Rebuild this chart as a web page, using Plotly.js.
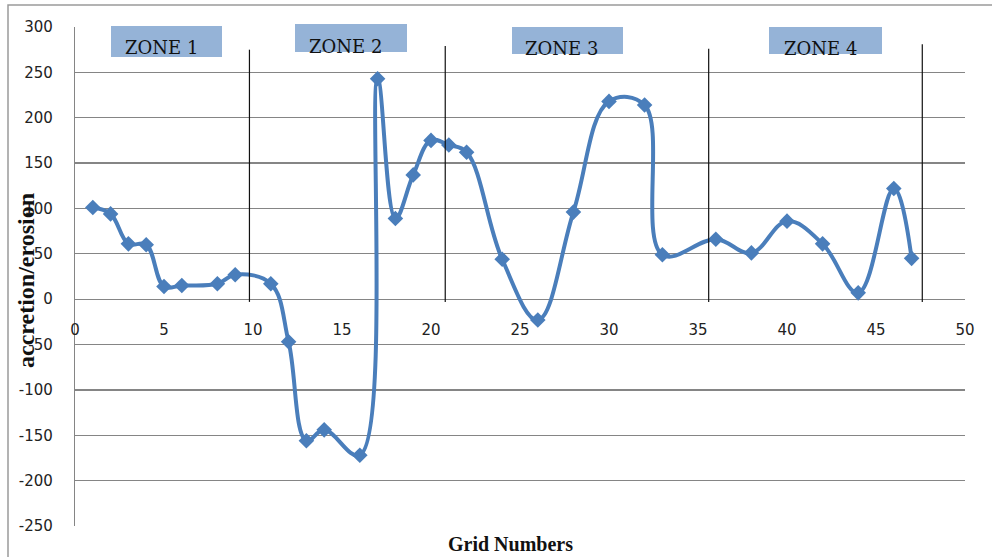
<!DOCTYPE html>
<html>
<head>
<meta charset="utf-8">
<script src="https://cdn.plot.ly/plotly-3.0.1.min.js"></script>
<style>
html,body{margin:0;padding:0;background:#fff;}
#chart{width:992px;height:557px;}
</style>
</head>
<body>
<div id="chart"></div>
<script>
// Data
var gridNumbers = [1,2,3,4,5,6,8,9,11,12,13,14,16,17,18,19,20,21,22,24,26,28,30,32,33,36,38,40,42,44,46,47];
var accretionErosion = [101,94,61,60,14,15,17,27,17,-47,-156,-144,-172,243,89,137,175,170,162,44,-23,96,218,214,49,66,51,86,61,7,122,45];
var xTicks = [0,5,10,15,20,25,30,35,40,45,50];
var yTicks = [-250,-200,-150,-100,-50,0,50,100,150,200,250,300];
var zoneNames = ['ZONE 1','ZONE 2','ZONE 3','ZONE 4'];
var zoneDividers = [9.8, 20.8, 35.6, 47.6];
var zoneDividerTops = [275, 279, 276, 281];

// layout helpers (pixel -> paper)
var L = 75, R = 27, T = 27, B = 31, W = 992, H = 557;
var pw = W - L - R, ph = H - T - B;
function px(x){ return (x - L) / pw; }
function py(y){ return (H - B - y) / ph; }

var zoneBoxes = [ // [x0,x1,y0,y1,textX,textY] in pixels
  [111,222,26,57,161,47],
  [295,407,24,52,345,46],
  [512,623,27,54,561,48],
  [769,882,27,54,820,48]
];

var shapes = [];
var annotations = [];

// outer frame
shapes.push({type:'rect', xref:'paper', yref:'paper', x0:px(8), x1:px(1010), y0:py(575), y1:py(5),
  line:{color:'#9a9a9a', width:1.5}, fillcolor:'rgba(0,0,0,0)', layer:'below'});

zoneDividers.forEach(function(x,i){
  shapes.push({type:'line', xref:'x', yref:'y', x0:x, x1:x, y0:-3, y1:zoneDividerTops[i],
    line:{color:'#111', width:1.2}});
});

zoneBoxes.forEach(function(b,i){
  shapes.push({type:'rect', xref:'paper', yref:'paper', x0:px(b[0]), x1:px(b[1]), y0:py(b[3]), y1:py(b[2]),
    line:{width:0}, fillcolor:'#95B3D7', layer:'above'});
  annotations.push({xref:'paper', yref:'paper', x:px(b[4]), y:py(b[5]), text:zoneNames[i], showarrow:false,
    xanchor:'center', yanchor:'middle', font:{family:'DejaVu Serif, serif', size:18, color:'#111'}});
});

annotations.push({xref:'paper', yref:'paper', x:px(510), y:py(544), text:'<b>Grid Numbers</b>', showarrow:false,
  xanchor:'center', yanchor:'middle', font:{family:'Liberation Serif, serif', size:20, color:'#111'}});
annotations.push({xref:'paper', yref:'paper', x:px(26), y:py(281), text:'<b>accretion/erosion</b>', showarrow:false,
  textangle:-90, xanchor:'center', yanchor:'middle', font:{family:'Liberation Serif, serif', size:24, color:'#111'}});

var trace = {
  x: gridNumbers, y: accretionErosion, type:'scatter', mode:'lines+markers',
  line:{shape:'spline', smoothing:1.1, color:'#4A7EBB', width:4},
  marker:{symbol:'diamond', size:12, color:'#4A7EBB'},
  cliponaxis:false, hoverinfo:'x+y'
};

var tf = {family:'DejaVu Sans, sans-serif', size:15, color:'#222'};
var layout = {
  width:W, height:H,
  margin:{l:L, r:R, t:T, b:B},
  paper_bgcolor:'#fff', plot_bgcolor:'#fff',
  showlegend:false,
  font:tf,
  xaxis:{range:[0,50], tickvals:xTicks, ticktext:xTicks.map(String), showgrid:false, zeroline:false,
    showline:false, anchor:'free', position:250/550, ticks:'', ticklabelstandoff:20, tickfont:tf},
  yaxis:{range:[-250,300], tickvals:yTicks, ticktext:yTicks.map(String), showgrid:true, gridcolor:'#858585',
    gridwidth:1.2, zeroline:false, showline:true, linecolor:'#858585', linewidth:1.2, ticks:'', ticklabelstandoff:18,
    tickfont:tf},
  shapes:shapes,
  annotations:annotations
};

Plotly.newPlot('chart',[trace],layout,{displayModeBar:false, staticPlot:true});
</script>
</body>
</html>
